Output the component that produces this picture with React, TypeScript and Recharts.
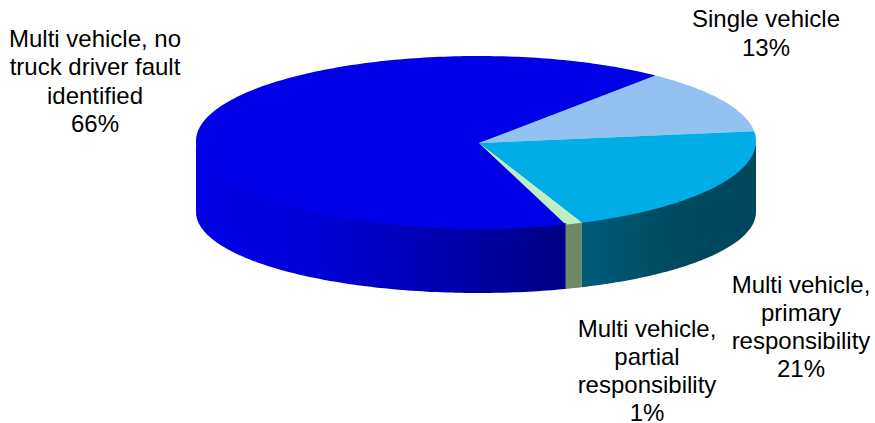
import React from 'react';
import { PieChart, Pie, Cell } from 'recharts';

// Crash shares by category, clockwise from the upper right of the disc.
const categories = ['Single vehicle', 'Multi vehicle, primary responsibility', 'Multi vehicle, partial responsibility', 'Multi vehicle, no truck driver fault identified'];
const shares = [13, 21, 1, 66];
const labelLines = [
  ['Single vehicle', '13%'],
  ['Multi vehicle,', 'primary', 'responsibility', '21%'],
  ['Multi vehicle,', 'partial', 'responsibility', '1%'],
  ['Multi vehicle, no', 'truck driver fault', 'identified', '66%'],
];

const topColors = ['#93C1F0', '#00ADE6', '#BDEFC0', '#0000E6'];
const rimStops: [number, string][][] = [
  [[0, '#5A7AA0'], [1, '#5A7AA0']],
  [[0, '#005C7A'], [0.5, '#004A60'], [1, '#00465C']],
  [[0, '#6E8868'], [1, '#6E8868']],
  [[0, '#0000E4'], [0.3, '#0000D8'], [0.6, '#0000B8'], [1, '#000082']],
];

const labelAnchors = [
  { x: 766, y: 27 },
  { x: 801, y: 293 },
  { x: 647, y: 337 },
  { x: 95, y: 47 },
];
const labelStep = [29.3, 28, 28, 28.3];

const WIDTH = 875;
const HEIGHT = 423;
const CX = 479;
const RIM_CY = 141;
const HUB_Y = 143;
const RX_RIGHT = 277;
const RX_LEFT = 283;
const RY_BACK = 85;
const RY_FRONT = 88;
const RY_BASE = 81;
const BASE_DROP = 71;
const RAD = Math.PI / 180;

// Far half of the disc is foreshortened, which pulls its angles towards the sides.
const foreshorten = (deg: number) => {
  const s = Math.sin(deg * RAD);
  return s > 0 ? deg - 4 * s * s : deg;
};

const topPoint = (deg: number): [number, number] => {
  const a = foreshorten(deg) * RAD;
  const c = Math.cos(a);
  const s = Math.sin(a);
  return [CX + c * (c > 0 ? RX_RIGHT : RX_LEFT), RIM_CY - s * (s > 0 ? RY_BACK : RY_FRONT)];
};

const basePoint = (deg: number): [number, number] => {
  const a = deg * RAD;
  const c = Math.cos(a);
  return [CX + c * (c > 0 ? RX_RIGHT : RX_LEFT), RIM_CY + BASE_DROP - Math.sin(a) * RY_BASE];
};

const sweep = (from: number, to: number, point: (d: number) => [number, number]) => {
  const n = Math.max(2, Math.ceil(Math.abs(to - from)));
  const pts: [number, number][] = [];
  for (let i = 0; i <= n; i += 1) pts.push(point(from + ((to - from) * i) / n));
  return pts;
};

const toPath = (pts: [number, number][]) =>
  pts.map((p, i) => `${i ? 'L' : 'M'}${p[0].toFixed(2)} ${p[1].toFixed(2)}`).join('') + 'Z';

// Draws one slice as a tilted disc sector with its rim below it.
const DiscSlice = (props: any) => {
  const { startAngle, endAngle, fill, index } = props;
  const rim: React.ReactNode[] = [];
  // The rim shows only where the slice faces the viewer (angles between 180 and 360).
  for (let turn = -2; turn <= 1; turn += 1) {
    const lo = 180 + 360 * turn;
    const hi = 360 + 360 * turn;
    const a = Math.max(Math.min(startAngle, endAngle), lo);
    const b = Math.min(Math.max(startAngle, endAngle), hi);
    if (b > a) {
      const upper = sweep(a, b, (d) => {
        const [x, y] = topPoint(d);
        return [x, y - 1.5];
      });
      const lower = sweep(b, a, basePoint);
      rim.push(<path key={turn} d={toPath([...upper, ...lower])} fill={`url(#rim-${index})`} />);
    }
  }
  const edge = sweep(startAngle, endAngle, topPoint);
  return (
    <g>
      <defs>
        <linearGradient id={`rim-${index}`} x1="0" y1="0" x2="1" y2="0">
          {rimStops[index].map(([offset, color]) => (
            <stop key={offset} offset={offset} stopColor={color} />
          ))}
        </linearGradient>
      </defs>
      {rim}
      <path d={toPath([[CX, HUB_Y], ...edge])} fill={fill} />
    </g>
  );
};

const SliceLabel = (props: any) => {
  const { index } = props;
  const anchor = labelAnchors[index];
  return (
    <text
      x={anchor.x}
      y={anchor.y}
      textAnchor="middle"
      fontFamily="'Liberation Sans', Arial, sans-serif"
      fontSize={24}
      fill="#000"
    >
      {labelLines[index].map((line, i) => (
        <tspan key={i} x={anchor.x} y={anchor.y + i * labelStep[index]}>
          {line}
        </tspan>
      ))}
    </text>
  );
};

const data = categories.map((name, i) => ({ name, value: shares[i] }));

export default function App() {
  return (
    <div style={{ position: 'absolute', left: 0, top: 0, width: WIDTH, height: HEIGHT, background: '#fff' }}>
      <PieChart width={WIDTH} height={HEIGHT} margin={{ top: 0, right: 0, bottom: 0, left: 0 }}>
        <Pie
          data={data}
          dataKey="value"
          nameKey="name"
          cx={CX}
          cy={RIM_CY}
          innerRadius={0}
          outerRadius={RX_RIGHT}
          startAngle={53}
          endAngle={-307}
          paddingAngle={0}
          stroke="none"
          isAnimationActive={false}
          shape={DiscSlice}
          label={SliceLabel}
          labelLine={false}
        >
          {data.map((d, i) => (
            <Cell key={d.name} fill={topColors[i]} />
          ))}
        </Pie>
      </PieChart>
    </div>
  );
}
